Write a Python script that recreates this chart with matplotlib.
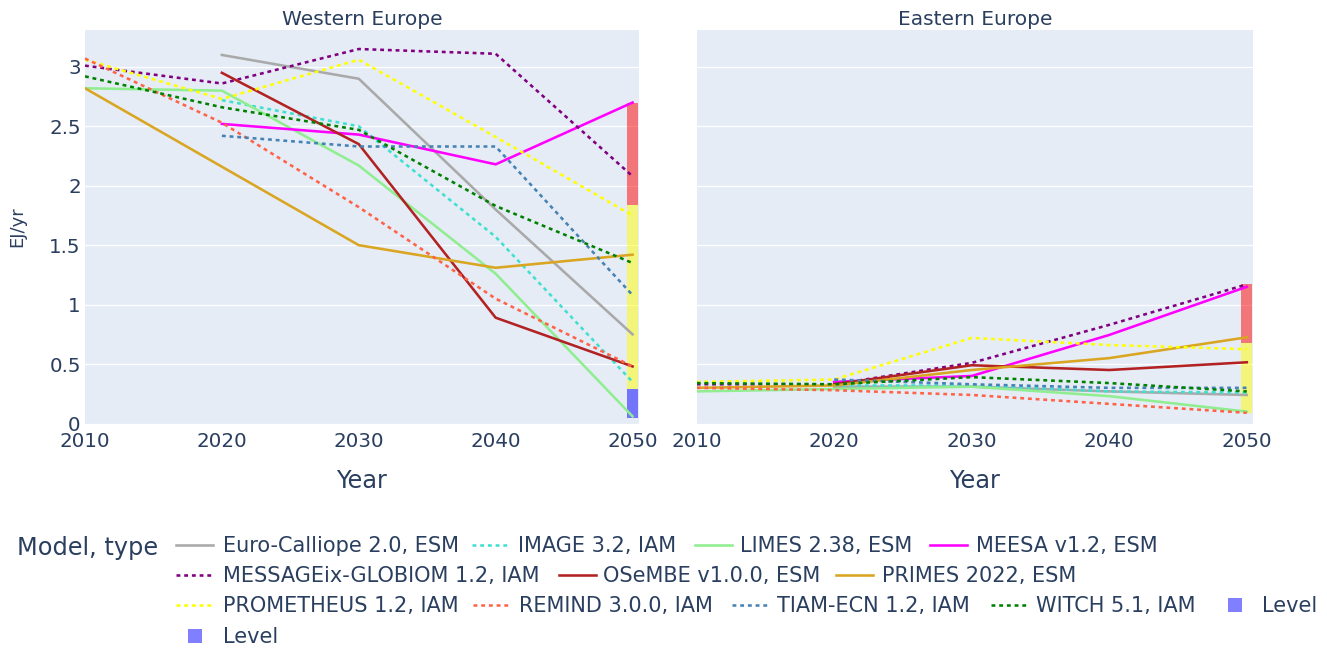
import numpy as np
import matplotlib.pyplot as plt
from matplotlib.lines import Line2D
from matplotlib.patches import Rectangle

nan = np.nan
years = [2010, 2020, 2030, 2040, 2050]

models = ["Euro-Calliope 2.0, ESM", "IMAGE 3.2, IAM", "LIMES 2.38, ESM", "MEESA v1.2, ESM",
          "MESSAGEix-GLOBIOM 1.2, IAM", "OSeMBE v1.0.0, ESM", "PRIMES 2022, ESM",
          "PROMETHEUS 1.2, IAM", "REMIND 3.0.0, IAM", "TIAM-ECN 1.2, IAM", "WITCH 5.1, IAM"]
colors = ["darkgray", "turquoise", "lightgreen", "magenta", "purple", "firebrick",
          "goldenrod", "yellow", "tomato", "steelblue", "green"]
dotted = [False, True, False, False, True, False, False, True, True, True, True]

# EJ/yr, one row per model, columns = years
west = [
    [nan, 3.10, 2.90, 1.80, 0.75],
    [nan, 2.72, 2.50, 1.57, 0.35],
    [2.82, 2.80, 2.17, 1.26, 0.06],
    [nan, 2.52, 2.43, 2.18, 2.70],
    [3.01, 2.86, 3.15, 3.11, 2.08],
    [nan, 2.95, 2.35, 0.89, 0.48],
    [2.82, 2.16, 1.50, 1.31, 1.42],
    [3.06, 2.73, 3.06, 2.41, 1.75],
    [3.07, 2.53, 1.82, 1.05, 0.48],
    [nan, 2.42, 2.33, 2.33, 1.08],
    [2.92, 2.66, 2.47, 1.83, 1.35],
]
east = [
    [nan, 0.31, 0.31, 0.27, 0.24],
    [nan, 0.32, 0.32, 0.27, 0.26],
    [0.27, 0.29, 0.31, 0.23, 0.10],
    [nan, 0.35, 0.40, 0.745, 1.15],
    [0.33, 0.33, 0.51, 0.83, 1.17],
    [nan, 0.33, 0.49, 0.45, 0.515],
    [0.30, 0.32, 0.45, 0.55, 0.725],
    [0.35, 0.37, 0.72, 0.66, 0.625],
    [0.30, 0.28, 0.24, 0.165, 0.09],
    [nan, 0.37, 0.33, 0.30, 0.30],
    [0.34, 0.33, 0.39, 0.34, 0.27],
]

# 2050 "Level" bars: (bottom, top, colour)
west_levels_bottom = [0.05, 0.29, 1.84]
west_levels_top = [0.29, 1.84, 2.70]
west_levels_color = ["blue", "yellow", "red"]
east_levels_bottom = [0.09, 0.68]
east_levels_top = [0.68, 1.17]
east_levels_color = ["yellow", "red"]

yticks = [0, 0.5, 1, 1.5, 2, 2.5, 3]

TXT = "#2a3f5f"
BG = "#E5ECF6"
DOT = (0, (1.5, 1.5))
LW = 1.85

W, H = 1327, 649
fig = plt.figure(figsize=(W / 100, H / 100), dpi=100)


def fx(px):
    return px / W


def fy(py):
    return 1 - py / H


top, bot = 30, 423.5
ax_w = fig.add_axes([fx(85), fy(bot), (638.7 - 85) / W, (bot - top) / H])
ax_e = fig.add_axes([fx(696.7), fy(bot), (1253 - 696.7) / W, (bot - top) / H], sharey=ax_w)

panels = [(ax_w, west, "Western Europe", west_levels_bottom, west_levels_top, west_levels_color),
          (ax_e, east, "Eastern Europe", east_levels_bottom, east_levels_top, east_levels_color)]

for ax, data, title, lb, lt, lc in panels:
    ax.set_facecolor(BG)
    for s in ax.spines.values():
        s.set_visible(False)
    for b, t, c in zip(lb, lt, lc):
        ax.bar(2050, t - b, bottom=b, width=0.8, color=c, alpha=0.5, linewidth=0, zorder=1)
    for vals, c, d in zip(data, colors, dotted):
        ax.plot(years, vals, color=c, lw=LW, linestyle=DOT if d else "-",
                dash_capstyle="butt", zorder=3)
    ax.set_xlim(2010, 2050.45)
    ax.set_ylim(0, 3.31)
    ax.set_xticks(years)
    ax.set_yticks(yticks)
    ax.set_yticklabels([f"{v:g}" for v in yticks])
    ax.grid(axis="y", color="white", lw=0.9, zorder=0)
    ax.set_axisbelow(True)
    ax.tick_params(axis="x", length=0, labelsize=14.3, labelcolor=TXT, pad=6)
    ax.tick_params(axis="y", length=0, labelsize=14.3, labelcolor=TXT, pad=3)
    ax.set_title(title, fontsize=14.5, color=TXT, pad=3.5)
    ax.set_xlabel("Year", fontsize=17.3, color=TXT)
    ax.xaxis.set_label_coords(0.5, -0.115)

ax_e.tick_params(axis="y", labelleft=False)
ax_w.set_ylabel("EJ/yr", fontsize=13, color=TXT)
ax_w.yaxis.set_label_coords(-0.107, 0.5)

# legend, laid out like the plotly horizontal legend
fig.text(fx(17), fy(554.5), "Model, type", fontsize=17.3, color=TXT, va="baseline")
rows = [545, 575, 605, 636]
legend_pos = [(0, 176, 222.7), (0, 471.7, 518.3), (0, 695, 740), (0, 930, 976),
              (1, 176, 222.7), (1, 558.7, 603.3), (1, 836, 881.7),
              (2, 176, 222.7), (2, 473, 519.3), (2, 731.7, 776.7), (2, 990.7, 1036)]
for (r, x0, xt), name, c, d in zip(legend_pos, models, colors, dotted):
    y = rows[r]
    fig.add_artist(Line2D([fx(x0), fx(x0 + 37)], [fy(y), fy(y)], transform=fig.transFigure,
                          color=c, lw=LW, linestyle=DOT if d else "-", dash_capstyle="butt"))
    fig.text(fx(xt), fy(y + 7.4), name, fontsize=15, color=TXT, va="baseline")

for r, xs, xt in [(2, 1227.7, 1261.7), (3, 188, 222.7)]:
    y = rows[r]
    fig.add_artist(Rectangle((fx(xs), fy(y + 7)), 14 / W, 14 / H, transform=fig.transFigure,
                             color="blue", alpha=0.5, linewidth=0))
    fig.text(fx(xt), fy(y + 7.4), "Level", fontsize=15, color=TXT, va="baseline")

fig.savefig("out.png", dpi=100)
